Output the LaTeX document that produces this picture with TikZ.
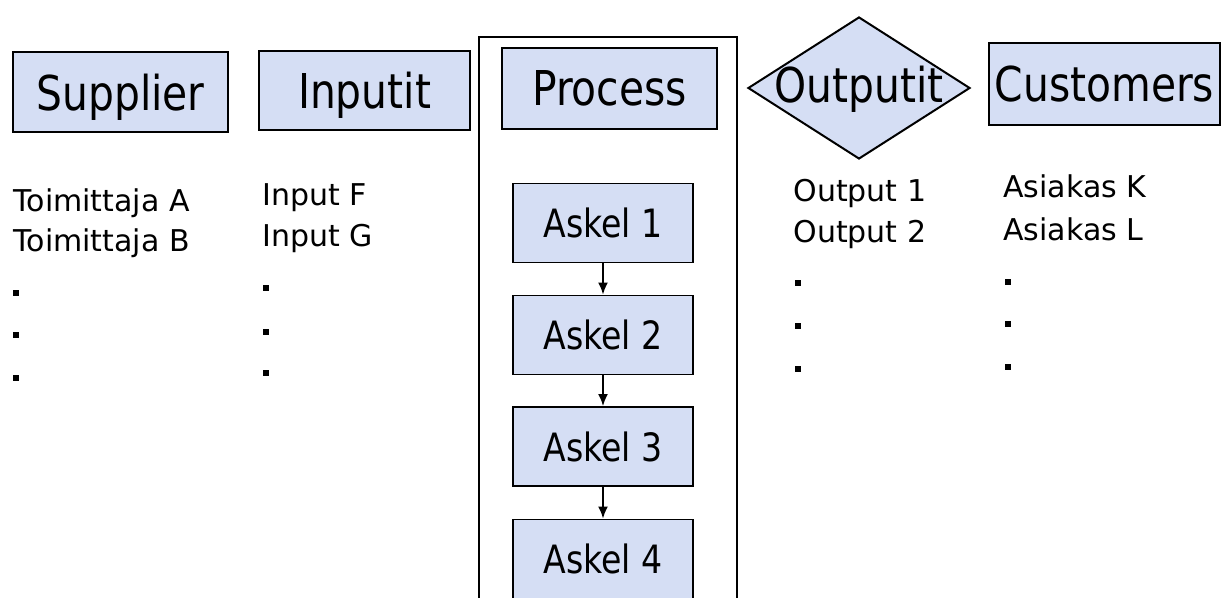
\documentclass[tikz,border=0pt]{standalone}
\usepackage{fontspec}
\setmainfont{DejaVu Sans}
\newfontfamily\headfont[FakeStretch=0.85]{DejaVu Sans}
\usetikzlibrary{arrows.meta,shapes.geometric}
\definecolor{boxblue}{RGB}{213,222,244}

\begin{document}
\begin{tikzpicture}[x=0.5pt,y=0.5pt]
\tikzstyle{every node}+=[inner sep=0pt]
\tikzstyle{headbox}=[draw=black,line width=1pt,fill=boxblue,text depth=0pt,font=\headfont\fontsize{24}{28}\selectfont]
\tikzstyle{stepbox}=[draw=black,line width=0.9pt,fill=boxblue,minimum width=90pt,minimum height=39.5pt,text depth=0pt,font=\headfont\fontsize{19.5}{23}\selectfont]
\tikzstyle{listitem}=[anchor=base west,font=\fontsize{15}{18}\selectfont]
\tikzstyle{dot}=[fill=black,minimum size=3pt]
\tikzstyle{steparrow}=[-{Latex[length=6pt,width=5pt]},line width=1pt]
\clip (0,0) rectangle (1225,-598);
\fill [white] (0,0) rectangle (1225,-598);
% process frame, open at the bottom
\draw [line width=1pt] (479,-620) rectangle (737,-37);
% column heads
\node [headbox,minimum width=107.5pt,minimum height=40pt] (supplier) at (120.5,-92) {Supplier};
\node [headbox,minimum width=105.5pt,minimum height=39.5pt] (inputs) at (364.5,-90.5) {Inputit};
\node [headbox,minimum width=107.5pt,minimum height=40.5pt] (process) at (609.5,-88.5) {Process};
\node [draw=black,line width=1pt,fill=boxblue,shape=diamond,minimum width=111pt,minimum height=71pt] (outputs) at (859,-88) {};
\node [font=\headfont\fontsize{24}{28}\selectfont,text depth=0pt] (outlabel) at (859,-84) {Outputit};
\node [headbox,minimum width=115.5pt,minimum height=41pt] (customers) at (1104.5,-84) {Customers};
% process steps
\node [stepbox] (step1) at (603,-223) {Askel 1};
\node [stepbox] (step2) at (603,-335) {Askel 2};
\node [stepbox] (step3) at (603,-446.5) {Askel 3};
\node [stepbox] (step4) at (603,-559) {Askel 4};
\draw [steparrow] (step1) -- (step2);
\draw [steparrow] (step2) -- (step3);
\draw [steparrow] (step3) -- (step4);
% lists under the heads
\node [listitem] (supA) at (13,-212) {Toimittaja A};
\node [listitem] (supB) at (13,-252) {Toimittaja B};
\node [dot] (supdot1) at (16,-293) {};
\node [dot] (supdot2) at (16,-335) {};
\node [dot] (supdot3) at (16,-378) {};
\node [listitem] (inF) at (262,-206) {Input F};
\node [listitem] (inG) at (262,-247) {Input G};
\node [dot] (indot1) at (266,-288) {};
\node [dot] (indot2) at (266,-332) {};
\node [dot] (indot3) at (266,-373) {};
\node [listitem] (out1) at (793,-202) {Output 1};
\node [listitem] (out2) at (793,-243) {Output 2};
\node [dot] (outdot1) at (798,-283) {};
\node [dot] (outdot2) at (798,-326) {};
\node [dot] (outdot3) at (798,-369) {};
\node [listitem] (custK) at (1003,-198) {Asiakas K};
\node [listitem] (custL) at (1003,-241) {Asiakas L};
\node [dot] (custdot1) at (1008,-282) {};
\node [dot] (custdot2) at (1008,-324) {};
\node [dot] (custdot3) at (1008,-367) {};
\end{tikzpicture}
\end{document}
